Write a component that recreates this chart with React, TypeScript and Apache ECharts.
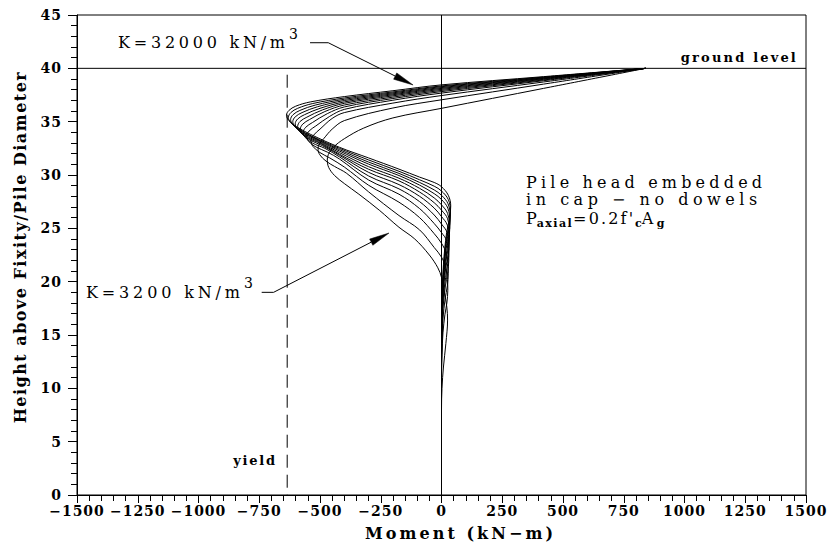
import React, { useEffect, useRef } from "react";
import * as echarts from "echarts";

const CHART_W = 829;
const CHART_H = 548;
const FONT_FAMILY = '"DejaVu Serif", "Liberation Serif", serif';

// ---- axes ----
const momentMin = -1500;
const momentMax = 1500;
const momentStep = 250;
const heightMin = 0;
const heightMax = 45;
const heightStep = 5;
const xTitle = "Moment (kN\u2212m)";
const yTitle = "Height above Fixity/Pile Diameter";

// ---- reference lines ----
const groundLevel = 40;
const yieldMoment = -635;
const yieldTop = 39.4;

// ---- moment profiles [moment kN-m, height / diameter], stiffest (K=32000) first ----
const curve01 = [[840,40],[420,39.22],[0,38.45],[-200,37.9],[-400,37.35],[-540,36.85],[-600,36.45],[-628,36.05],[-638,35.6],[-630,35.15],[-598,34.55],[-538,33.8],[-420,32.6],[-300,31.6],[-175,30.55],[-90,29.8],[-30,29.3],[0,28.9],[28,28.1],[38,27.1],[33,25.9],[21,24.6],[8,21.6],[2,18],[0,14],[0,0]];
const curve02 = [[840,40],[420,39.18],[0,38.35],[-200,37.79],[-400,37.22],[-530,36.7],[-592,36.25],[-620,35.85],[-630,35.4],[-622,34.95],[-590,34.35],[-530,33.6],[-420,32.5],[-300,31.41],[-175,30.35],[-90,29.55],[-30,28.95],[0,28.5],[28,27.7],[37,26.6],[32,25.4],[20,24.1],[8,21.1],[2,17.6],[0,13.8],[0,0]];
const curve03 = [[840,40],[420,39.14],[0,38.28],[-200,37.7],[-400,37.1],[-520,36.55],[-583,36.05],[-611,35.65],[-621,35.2],[-613,34.75],[-581,34.15],[-522,33.45],[-420,32.38],[-300,31.21],[-175,30.15],[-90,29.3],[-30,28.6],[0,28.1],[27,27.3],[36,26.1],[31,24.9],[20,23.6],[8,20.7],[2,17.3],[0,13.5],[0,0]];
const curve04 = [[840,40],[420,39.1],[0,38.2],[-200,37.61],[-400,36.98],[-510,36.4],[-574,35.85],[-602,35.45],[-612,35.0],[-604,34.55],[-572,33.95],[-514,33.3],[-420,32.25],[-300,31.02],[-175,29.95],[-90,29.05],[-30,28.25],[0,27.7],[26,26.9],[35,25.6],[30,24.4],[19,23.1],[7,20.3],[2,17],[0,13.2],[0,0]];
const curve05 = [[840,40],[420,39.06],[0,38.12],[-200,37.52],[-400,36.85],[-500,36.25],[-564,35.65],[-592,35.25],[-602,34.8],[-594,34.33],[-562,33.72],[-506,33.12],[-420,32.1],[-300,30.78],[-175,29.7],[-90,28.75],[-30,27.85],[0,27.2],[25,26.4],[34,25.0],[29,23.8],[19,22.5],[7,19.8],[2,16.6],[0,12.9],[0,0]];
const curve06 = [[840,40],[420,39.02],[0,38.03],[-200,37.42],[-400,36.72],[-490,36.1],[-554,35.42],[-582,35.02],[-592,34.55],[-584,34.08],[-552,33.5],[-498,32.95],[-420,31.95],[-300,30.54],[-175,29.45],[-90,28.4],[-30,27.4],[0,26.7],[25,25.9],[33,24.4],[28,23.2],[18,21.9],[7,19.3],[2,16.2],[0,12.6],[0,0]];
const curve07 = [[840,40],[420,38.97],[0,37.93],[-200,37.3],[-400,36.56],[-480,35.95],[-543,35.2],[-571,34.77],[-581,34.3],[-573,33.83],[-541,33.27],[-490,32.75],[-420,31.85],[-300,30.25],[-175,29.1],[-90,28.0],[-30,26.9],[0,26.1],[24,25.3],[32,23.7],[27,22.5],[17,21.2],[6,18.8],[2,15.8],[0,12.3],[0,0]];
const curve08 = [[840,40],[420,38.91],[0,37.82],[-200,37.17],[-400,36.38],[-470,35.75],[-531,34.92],[-559,34.47],[-569,34.0],[-561,33.52],[-530,32.98],[-480,32.5],[-420,31.7],[-300,29.91],[-175,28.7],[-90,27.5],[-30,26.25],[0,25.4],[23,24.6],[31,22.9],[26,21.7],[17,20.4],[6,18.2],[2,15.3],[0,12],[0,0]];
const curve09 = [[840,40],[420,38.84],[0,37.68],[-200,37.01],[-400,36.15],[-460,35.5],[-517,34.6],[-545,34.12],[-555,33.65],[-547,33.16],[-516,32.62],[-470,32.15],[-420,31.5],[-300,29.53],[-175,28.2],[-90,26.85],[-30,25.45],[0,24.6],[22,23.8],[30,22.0],[25,20.8],[16,19.6],[6,17.5],[2,14.8],[0,11.6],[0,0]];
const curve10 = [[840,40],[420,38.72],[0,37.45],[-200,36.74],[-400,35.85],[-450,35.3],[-500,34.3],[-527,33.72],[-537,33.2],[-529,32.68],[-500,32.1],[-460,31.6],[-400,30.75],[-300,29.04],[-175,27.45],[-90,26.0],[-30,24.5],[0,23.6],[20,22.6],[28,20.8],[24,19.6],[15,18.4],[6,16.5],[2,14.2],[0,11.2],[0,0]];
const curve11 = [[840,40],[420,38.52],[0,37.05],[-200,36.28],[-400,35.1],[-450,34.3],[-485,33.4],[-503,32.9],[-508,32.45],[-501,31.9],[-475,31.3],[-440,30.8],[-390,30.15],[-300,28.42],[-175,26.2],[-90,24.85],[-30,23.2],[0,22.3],[19,21.2],[26,19.2],[22,18.0],[14,16.9],[6,15.2],[2,13.2],[0,10.5],[0,0]];
const curve12 = [[840,40],[420,38.12],[0,36.25],[-200,35.35],[-320,34.4],[-400,33.4],[-445,32.6],[-466,31.9],[-470,31.4],[-464,30.7],[-440,29.95],[-400,29.2],[-340,28.2],[-256,26.7],[-175,25.1],[-110,24.0],[-50,22.5],[-15,21.3],[0,20.4],[12,19.0],[22,17.6],[25,16.4],[18,14.2],[8,12],[2,10],[0,8],[0,0]];
const curves = [curve01, curve02, curve03, curve04, curve05, curve06, curve07, curve08, curve09, curve10, curve11, curve12];

// ---- annotation anchors (data coordinates) ----
const kHighText = "K=32000 kN/m";
const kHighAnchor = [-1331, 42.42];
const kHighLeader = [[-541, 42.4], [-466, 42.4], [-117, 38.44]];
const kLowText = "K=3200 kN/m";
const kLowAnchor = [-1463, 19.0];
const kLowLeader = [[-740, 19.0], [-691, 19.0], [-216, 24.56]];
const groundText = "ground level";
const groundAnchor = [1467, 40.97];
const yieldText = "yield";
const yieldAnchor = [-677, 3.19];
const noteLines = ["Pile head embedded", "in cap \u2212 no dowels"];
const noteAnchor = [348, 29.3];

const titleFont = `bold 16px ${FONT_FAMILY}`;

export default function App() {
  const ref = useRef<HTMLDivElement>(null);

  useEffect(() => {
    const el = ref.current;
    if (!el) return;
    const chart = echarts.init(el, null, { renderer: "svg" });

    const ctx = document.createElement("canvas").getContext("2d")!;
    const measure = (t: string, font: string) => {
      ctx.font = font;
      return ctx.measureText(t).width;
    };
    const spacing = new Map<string, number>();
    const fit = (t: string, font: string, target: number) => {
      const s = Math.max(0, (target - measure(t, font)) / Math.max(1, t.length - 1));
      spacing.set(t, s);
      return s;
    };
    fit(xTitle, titleFont, 188);
    fit(yTitle, titleFont, 351);

    const lineStyle = { color: "#000", width: 1 };
    const series: any[] = curves.map((data, i) => ({
      type: "line",
      name: "profile " + (i + 1),
      data,
      showSymbol: false,
      smooth: 0.35,
      silent: true,
      lineStyle,
      z: 3,
    }));
    series.push({
      type: "line", name: "zero", data: [[0, heightMin], [0, heightMax]],
      showSymbol: false, silent: true, lineStyle, z: 2,
    });
    series.push({
      type: "line", name: "ground", data: [[momentMin, groundLevel], [momentMax, groundLevel]],
      showSymbol: false, silent: true, lineStyle, z: 2,
    });
    series.push({
      type: "line", name: "yield", data: [[yieldMoment, yieldTop], [yieldMoment, heightMin]],
      showSymbol: false, silent: true, lineStyle: { color: "#000", width: 1, type: [13, 7] }, z: 2,
    });

    const minus = (v: number) => String(v).replace("-", "\u2212");

    chart.setOption({
      animation: false,
      grid: { left: 77, right: 23, top: 15, bottom: 53, show: true, borderColor: "#000", borderWidth: 1 },
      xAxis: {
        type: "value", min: momentMin, max: momentMax, interval: momentStep,
        name: xTitle, nameLocation: "middle", nameGap: 30,
        nameTextStyle: { fontFamily: FONT_FAMILY, fontSize: 16, fontWeight: "bold", color: "#000", padding: [0, 0, 0, 38] },
        axisLine: { onZero: false, lineStyle: { color: "#000", width: 1 } },
        axisTick: { show: true, length: 8, lineStyle: { color: "#000" } },
        minorTick: { show: true, splitNumber: 5, length: 6, lineStyle: { color: "#000" } },
        splitLine: { show: false },
        axisLabel: { formatter: minus, margin: 9, fontFamily: FONT_FAMILY, fontSize: 14, fontWeight: "bold", color: "#000" },
      },
      yAxis: {
        type: "value", min: heightMin, max: heightMax, interval: heightStep,
        name: yTitle, nameLocation: "middle", nameGap: 49,
        nameTextStyle: { fontFamily: FONT_FAMILY, fontSize: 16, fontWeight: "bold", color: "#000", padding: [0, 0, 0, 16] },
        axisLine: { onZero: false, lineStyle: { color: "#000", width: 1 } },
        axisTick: { show: true, length: 9, lineStyle: { color: "#000" } },
        minorTick: { show: true, splitNumber: 5, length: 6, lineStyle: { color: "#000" } },
        splitLine: { show: false },
        axisLabel: { formatter: minus, margin: 15, fontFamily: FONT_FAMILY, fontSize: 14, fontWeight: "bold", color: "#000" },
      },
      series,
    });

    const px = (p: number[]) => chart.convertToPixel({ gridIndex: 0 }, p) as number[];

    const text = (t: string, x: number, y: number, font: string, align = "left") => ({
      type: "text", x, y, silent: true, z: 10,
      style: { text: t, font, fill: "#000", align, textAlign: align, verticalAlign: "middle", textVerticalAlign: "middle" },
    });
    const arrow = (dataPts: number[][]) => {
      const pts = dataPts.map(px);
      const t = pts[pts.length - 1];
      const p = pts[pts.length - 2];
      const dx = t[0] - p[0];
      const dy = t[1] - p[1];
      const L = Math.hypot(dx, dy);
      const ux = dx / L, uy = dy / L;
      const len = 20, hw = 3.5;
      const bx = t[0] - ux * len, by = t[1] - uy * len;
      return [
        { type: "polyline", silent: true, z: 10, shape: { points: [...pts.slice(0, -1), [bx, by]] }, style: { stroke: "#000", lineWidth: 1, fill: null } },
        { type: "polygon", silent: true, z: 10, shape: { points: [t, [bx - uy * hw, by + ux * hw], [bx + uy * hw, by - ux * hw]] }, style: { fill: "#000", stroke: "#000", lineWidth: 0.5 } },
      ];
    };

    const mainFont = `16px ${FONT_FAMILY}`;
    const supFont = `14px ${FONT_FAMILY}`;
    const smallBold = `bold 13px ${FONT_FAMILY}`;
    const subFont = `bold 11px ${FONT_FAMILY}`;

    const graphics: any[] = [];
    const kLabel = (t: string, anchor: number[], target: number, raise: number) => {
      const p = px(anchor);
      const s = fit(t, mainFont, target);
      const w = measure(t, mainFont) + s * (t.length - 1);
      graphics.push(text(t, p[0], p[1], mainFont));
      graphics.push(text("3", p[0] + w + 4, p[1] - raise, supFont));
    };
    kLabel(kHighText, kHighAnchor, 167, 8.5);
    kLabel(kLowText, kLowAnchor, 154, 9.5);
    graphics.push(...arrow(kHighLeader));
    graphics.push(...arrow(kLowLeader));

    fit(groundText, smallBold, 115);
    const g = px(groundAnchor);
    graphics.push(text(groundText, g[0], g[1], smallBold, "right"));

    fit(yieldText, smallBold, 42);
    const yl = px(yieldAnchor);
    graphics.push(text(yieldText, yl[0], yl[1], smallBold, "right"));

    const n = px(noteAnchor);
    fit(noteLines[0], mainFont, 236);
    fit(noteLines[1], mainFont, 231);
    graphics.push(text(noteLines[0], n[0], n[1], mainFont));
    graphics.push(text(noteLines[1], n[0], n[1] + 17.5, mainFont));
    const l3 = n[1] + 36;
    fit("axial", subFont, 35);
    fit("=0.2f'", mainFont, 60);
    graphics.push(text("P", n[0], l3, mainFont));
    graphics.push(text("axial", n[0] + 10.7, l3 + 5, subFont));
    graphics.push(text("=0.2f'", n[0] + 47, l3, mainFont));
    graphics.push(text("c", n[0] + 109, l3 + 5, subFont));
    graphics.push(text("A", n[0] + 115.7, l3, mainFont));
    graphics.push(text("g", n[0] + 130.7, l3 + 5, subFont));

    chart.setOption({ graphic: graphics });

    const applySpacing = () => {
      el.querySelectorAll("text").forEach((node) => {
        const c = node.textContent || "";
        const s = spacing.get(c);
        if (s !== undefined) node.setAttribute("letter-spacing", s.toFixed(2));
        else if (/^\u2212?\d+$/.test(c)) node.setAttribute("letter-spacing", "1");
      });
    };
    chart.on("finished", applySpacing);
    (chart.getZr() as any).flush?.();
    applySpacing();

    return () => {
      chart.dispose();
    };
  }, []);

  return (
    <div
      ref={ref}
      style={{ position: "absolute", left: 0, top: 0, width: CHART_W, height: CHART_H, background: "#fff" }}
    />
  );
}
